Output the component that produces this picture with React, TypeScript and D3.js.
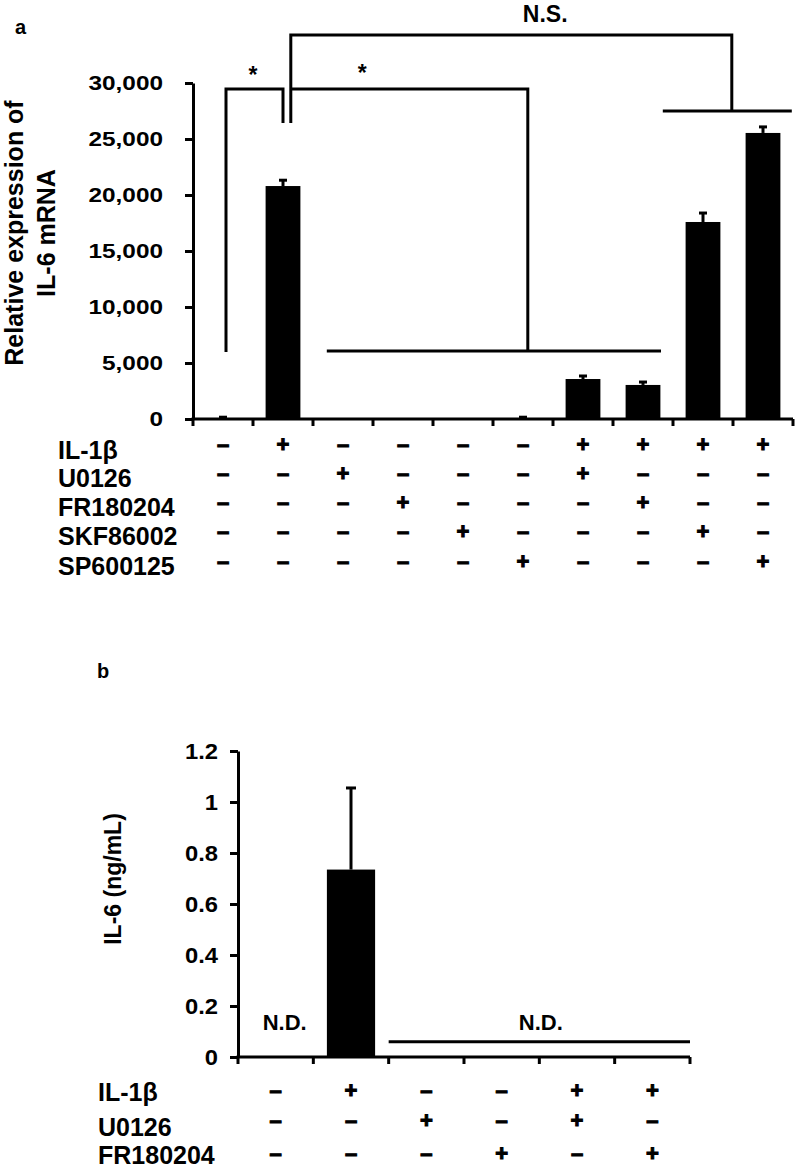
import { useEffect, useRef } from "react";
import * as d3 from "d3";

// panel a: IL-6 mRNA (relative expression)
const groupsA = [
  "Control",
  "IL-1β",
  "U0126",
  "FR180204",
  "SKF86002",
  "SP600125",
  "IL-1β+U0126",
  "IL-1β+FR180204",
  "IL-1β+SKF86002",
  "IL-1β+SP600125",
];
const mrnaMean = [40, 20800, 0, 0, 0, 40, 3570, 3040, 17590, 25540];
const mrnaErr = [120, 520, 0, 0, 0, 120, 270, 260, 800, 540];
const mrnaTicks = [0, 5000, 10000, 15000, 20000, 25000, 30000];
const treatmentsA = ["IL-1β", "U0126", "FR180204", "SKF86002", "SP600125"];
const signsA = [
  ["-", "+", "-", "-", "-", "-", "+", "+", "+", "+"],
  ["-", "-", "+", "-", "-", "-", "+", "-", "-", "-"],
  ["-", "-", "-", "+", "-", "-", "-", "+", "-", "-"],
  ["-", "-", "-", "-", "+", "-", "-", "-", "+", "-"],
  ["-", "-", "-", "-", "-", "+", "-", "-", "-", "+"],
];

// significance brackets: [group index, offset in steps, value]
const brackets: [number, number, number][][] = [
  [[0, 0.05, 5980], [0, 0.05, 29460], [1, 0, 29460], [1, 0, 26430]],
  [[1, 0.13, 26430], [1, 0.13, 34290], [8, 0.48, 34290], [8, 0.48, 27500]],
  [[1, 0.13, 29460], [5, 0.08, 29460], [5, 0.08, 6070]],
  [[2, -0.27, 6070], [7, 0.3, 6070]],
  [[7, 0.33, 27500], [9, 0.48, 27500]],
];
const bracketLabels: { text: string; at: [number, number, number] }[] = [
  { text: "*", at: [0, 0.5, 31150] },
  { text: "*", at: [2, 0.32, 31350] },
  { text: "N.S.", at: [5, 0.37, 36200] },
];

// panel b: IL-6 protein (ng/mL)
const groupsB = ["Control", "IL-1β", "U0126", "FR180204", "IL-1β+U0126", "IL-1β+FR180204"];
const proteinMean = [0, 0.735, 0, 0, 0, 0];
const proteinErr = [0, 0.32, 0, 0, 0, 0];
const proteinTicks = [0, 0.2, 0.4, 0.6, 0.8, 1, 1.2];
const proteinTickLabels = ["0", "0.2", "0.4", "0.6", "0.8", "1", "1.2"];
const treatmentsB = ["IL-1β", "U0126", "FR180204"];
const signsB = [
  ["-", "+", "-", "-", "+", "+"],
  ["-", "-", "+", "-", "+", "-"],
  ["-", "-", "-", "+", "-", "+"],
];
const ndLabels: { text: string; at: [number, number, number] }[] = [
  { text: "N.D.", at: [0, 0.12, 0.137] },
  { text: "N.D.", at: [3, 0.52, 0.137] },
];
const ndLine: [number, number, number][] = [[2, -0.5, 0.06], [5, 0.5, 0.06]];

const FONT = "'Liberation Sans', Arial, Helvetica, sans-serif";

export default function App() {
  const svgRef = useRef<SVGSVGElement>(null);

  useEffect(() => {
    if (!svgRef.current) return;
    const svg = d3.select(svgRef.current);
    svg.selectAll("*").remove();
    svg.attr("font-family", FONT);

    const stretch = (k: number) =>
      function (this: SVGTextElement) {
        const w = this.getComputedTextLength();
        d3.select(this).attr("textLength", w * k).attr("lengthAdjust", "spacingAndGlyphs");
      };

    // ---------- panel a ----------
    const xA = d3.scaleBand().domain(groupsA).range([193, 793]).paddingInner(0.42).paddingOuter(0.21);
    const yA = d3.scaleLinear().domain([0, 30000]).range([419, 83]);
    const cA = (i: number, f = 0) => (xA(groupsA[i]) as number) + xA.bandwidth() / 2 + f * xA.step();

    svg.append("text").attr("x", 15).attr("y", 34).attr("font-size", 20).attr("font-weight", "bold").text("a");

    const gA = svg.append("g");
    gA.selectAll("rect")
      .data(mrnaMean)
      .join("rect")
      .attr("x", (_, i) => xA(groupsA[i]) as number)
      .attr("y", d => yA(d))
      .attr("width", xA.bandwidth())
      .attr("height", d => yA(0) - yA(d))
      .attr("fill", "#000");

    const errA = gA.append("g").attr("stroke", "#000").attr("stroke-width", 3);
    mrnaMean.forEach((m, i) => {
      if (!mrnaErr[i]) return;
      const cx = cA(i);
      errA.append("line").attr("x1", cx).attr("x2", cx).attr("y1", yA(m)).attr("y2", yA(m + mrnaErr[i]));
      errA.append("line").attr("x1", cx - 4).attr("x2", cx + 4).attr("y1", yA(m + mrnaErr[i])).attr("y2", yA(m + mrnaErr[i]));
    });

    const yAxisA = svg.append("g")
      .attr("transform", `translate(${xA.range()[0]},0)`)
      .call(d3.axisLeft(yA).tickValues(mrnaTicks).tickFormat(d => d3.format(",")(d as number)).tickSize(8).tickSizeOuter(0).tickPadding(22));
    yAxisA.select(".domain").attr("stroke-width", 3);
    yAxisA.selectAll(".tick line").attr("stroke-width", 3);
    yAxisA.selectAll<SVGTextElement, unknown>(".tick text")
      .attr("font-size", 21)
      .attr("font-weight", "bold")
      .attr("font-family", FONT)
      .attr("fill", "#000")
      .each(stretch(1.16));

    const [xa0, xa1] = xA.range();
    svg.append("line").attr("x1", xa0 - 1.5).attr("x2", xa1).attr("y1", yA(0)).attr("y2", yA(0)).attr("stroke", "#000").attr("stroke-width", 3);
    svg.append("g").attr("stroke", "#000").attr("stroke-width", 3)
      .selectAll("line")
      .data(d3.range(groupsA.length + 1))
      .join("line")
      .attr("x1", k => xa0 + k * xA.step())
      .attr("x2", k => xa0 + k * xA.step())
      .attr("y1", yA(0))
      .attr("y2", yA(0) + 7);

    svg.append("text")
      .attr("transform", `translate(14,233) rotate(-90)`)
      .attr("text-anchor", "middle").attr("dominant-baseline", "central")
      .attr("font-size", 25).attr("font-weight", "bold")
      .text("Relative expression of");
    svg.append("text")
      .attr("transform", `translate(46,233) rotate(-90)`)
      .attr("text-anchor", "middle").attr("dominant-baseline", "central")
      .attr("font-size", 25).attr("font-weight", "bold")
      .text("IL-6 mRNA");

    const line = d3.line<[number, number, number]>().x(p => cA(p[0], p[1])).y(p => yA(p[2]));
    svg.append("g").attr("fill", "none").attr("stroke", "#000").attr("stroke-width", 3)
      .selectAll("path")
      .data(brackets)
      .join("path")
      .attr("d", d => line(d));
    svg.append("g")
      .selectAll("text")
      .data(bracketLabels)
      .join("text")
      .attr("x", d => cA(d.at[0], d.at[1]))
      .attr("y", d => yA(d.at[2]))
      .attr("text-anchor", "middle")
      .attr("dominant-baseline", "central")
      .attr("dy", d => (d.text === "*" ? "0.21em" : "0"))
      .attr("font-size", 23)
      .attr("font-weight", "bold")
      .text(d => d.text);

    const labelRowsA = [450, 478, 507, 536, 566];
    const signRowsA = [444, 473, 502, 531, 561];
    const tableA = svg.append("g").attr("font-weight", "bold").attr("dominant-baseline", "central");
    treatmentsA.forEach((t, r) => {
      tableA.append("text").attr("x", 58).attr("y", labelRowsA[r]).attr("font-size", 25).text(t);
      signsA[r].forEach((s, i) => {
        tableA.append("text")
          .attr("x", cA(i)).attr("y", signRowsA[r])
          .attr("text-anchor", "middle").attr("font-size", 22)
          .attr("stroke", "#000").attr("stroke-width", 1.1)
          .text(s === "+" ? "+" : "–");
      });
    });

    // ---------- panel b ----------
    const xB = d3.scaleBand().domain(groupsB).range([238, 690]).paddingInner(0.36).paddingOuter(0.18);
    const yB = d3.scaleLinear().domain([0, 1.2]).range([1057, 751]);
    const cB = (i: number, f = 0) => (xB(groupsB[i]) as number) + xB.bandwidth() / 2 + f * xB.step();

    svg.append("text").attr("x", 97).attr("y", 678).attr("font-size", 20).attr("font-weight", "bold").text("b");

    const gB = svg.append("g");
    gB.selectAll("rect")
      .data(proteinMean)
      .join("rect")
      .attr("x", (_, i) => xB(groupsB[i]) as number)
      .attr("y", d => yB(d))
      .attr("width", xB.bandwidth())
      .attr("height", d => yB(0) - yB(d))
      .attr("fill", "#000");
    const errB = gB.append("g").attr("stroke", "#000").attr("stroke-width", 3);
    proteinMean.forEach((m, i) => {
      if (!proteinErr[i]) return;
      const cx = cB(i);
      errB.append("line").attr("x1", cx).attr("x2", cx).attr("y1", yB(m)).attr("y2", yB(m + proteinErr[i]));
      errB.append("line").attr("x1", cx - 5).attr("x2", cx + 5).attr("y1", yB(m + proteinErr[i])).attr("y2", yB(m + proteinErr[i]));
    });

    const yAxisB = svg.append("g")
      .attr("transform", `translate(${xB.range()[0]},0)`)
      .call(d3.axisLeft(yB).tickValues(proteinTicks).tickFormat((_, i) => proteinTickLabels[i]).tickSize(8).tickSizeOuter(0).tickPadding(12));
    yAxisB.select(".domain").attr("stroke-width", 3);
    yAxisB.selectAll(".tick line").attr("stroke-width", 3);
    yAxisB.selectAll<SVGTextElement, unknown>(".tick text")
      .attr("font-size", 22)
      .attr("font-weight", "bold")
      .attr("font-family", FONT)
      .attr("fill", "#000")
      .each(stretch(1.08));

    const [xb0, xb1] = xB.range();
    svg.append("line").attr("x1", xb0 - 1.5).attr("x2", xb1).attr("y1", yB(0)).attr("y2", yB(0)).attr("stroke", "#000").attr("stroke-width", 3);
    svg.append("g").attr("stroke", "#000").attr("stroke-width", 3)
      .selectAll("line")
      .data(d3.range(groupsB.length + 1))
      .join("line")
      .attr("x1", k => xb0 + k * xB.step())
      .attr("x2", k => xb0 + k * xB.step())
      .attr("y1", yB(0))
      .attr("y2", yB(0) + 7);

    svg.append("text")
      .attr("transform", `translate(113,879) rotate(-90)`)
      .attr("text-anchor", "middle").attr("dominant-baseline", "central")
      .attr("font-size", 23).attr("font-weight", "bold")
      .text("IL-6 (ng/mL)");

    const lineB = d3.line<[number, number, number]>().x(p => cB(p[0], p[1])).y(p => yB(p[2]));
    svg.append("path").attr("d", lineB(ndLine)).attr("fill", "none").attr("stroke", "#000").attr("stroke-width", 3);
    svg.append("g")
      .selectAll("text")
      .data(ndLabels)
      .join("text")
      .attr("x", d => cB(d.at[0], d.at[1]))
      .attr("y", d => yB(d.at[2]))
      .attr("text-anchor", "middle")
      .attr("dominant-baseline", "central")
      .attr("font-size", 22)
      .attr("font-weight", "bold")
      .text(d => d.text);

    const labelRowsB = [1092, 1127, 1155];
    const signRowsB = [1090, 1120, 1153];
    const tableB = svg.append("g").attr("font-weight", "bold").attr("dominant-baseline", "central");
    treatmentsB.forEach((t, r) => {
      tableB.append("text").attr("x", 98).attr("y", labelRowsB[r]).attr("font-size", 25).text(t);
      signsB[r].forEach((s, i) => {
        tableB.append("text")
          .attr("x", cB(i)).attr("y", signRowsB[r])
          .attr("text-anchor", "middle").attr("font-size", 22)
          .attr("stroke", "#000").attr("stroke-width", 1.1)
          .text(s === "+" ? "+" : "–");
      });
    });
  }, []);

  return (
    <svg
      ref={svgRef}
      width={800}
      height={1169}
      style={{ position: "absolute", left: 0, top: 0, background: "#fff" }}
    />
  );
}
